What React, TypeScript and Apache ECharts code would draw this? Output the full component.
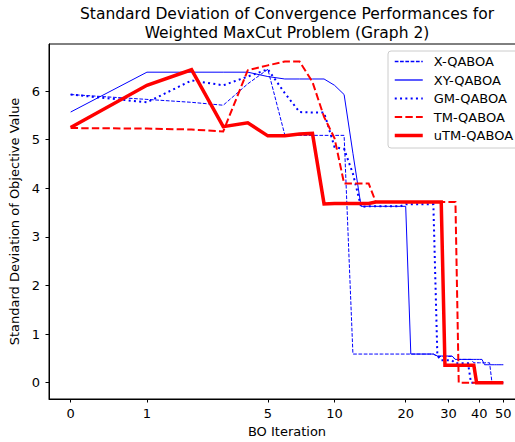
import React, { useEffect, useRef } from "react";
import * as echarts from "echarts";

const iterations = [
  0, 1, 2, 3, 4, 5, 6, 7, 8, 9, 10, 11, 12, 13, 14, 15, 16, 17, 18, 19, 20,
  21, 22, 23, 24, 25, 26, 27, 28, 29, 30, 31, 32, 33, 34, 35, 36, 37, 38, 39,
  40, 41, 42, 43, 44, 45, 46, 47, 48, 49, 50,
];

const xQaoa = [
  5.93, 5.83, 5.77, 5.71, 6.15, 6.45, 5.1, 5.09, 5.09, 5.09, 5.09, 5.09,
  0.59, 0.59, 0.59, 0.59, 0.59, 0.59, 0.59, 0.59, 0.59, 0.59, 0.59, 0.59, 0.59, 0.59, 0.59,
  0.54, 0.54, 0.54, 0.54, 0.54,
  0.48, 0.48, 0.48, 0.48, 0.48, 0.48,
  0.41, 0.41, 0.41, 0.41, 0.41, 0.41, 0.41,
  0, 0, 0, 0, 0, 0,
];

const xyQaoa = [
  5.57, 6.39, 6.39, 6.39, 6.39, 6.3, 6.25, 6.25, 6.25, 6.25, 6.12, 5.93, 4.72, 3.63,
  3.63, 3.63, 3.63, 3.63, 3.63, 3.63, 3.63,
  0.59, 0.59, 0.59, 0.59, 0.59, 0.59,
  0.55, 0.55, 0.55, 0.55, 0.55,
  0.48, 0.48, 0.48, 0.48, 0.48, 0.48, 0.48, 0.48, 0.48, 0.48,
  0.37, 0.37, 0.37, 0.37, 0.37, 0.37, 0.37, 0.37, 0.37,
];

const gmQaoa = [
  5.93, 5.77, 6.22, 6.12, 6.3, 6.45, 5.96, 5.57, 5.56, 5.56, 4.85, 4.81, 4.3, 3.62,
  3.63, 3.63, 3.63, 3.63, 3.63, 3.63,
  3.67, 3.67, 3.67, 3.67, 3.67, 3.67, 3.67,
  0.56,
  0.46, 0.46, 0.46, 0.46,
  0.4, 0.4, 0.4, 0.4, 0.4,
  0, 0, 0, 0, 0, 0, 0, 0, 0, 0, 0, 0, 0, 0,
];

const tmQaoa = [
  5.24, 5.23, 5.21, 5.17, 6.43, 6.53, 6.61, 6.61, 6.19, 5.47, 5.03, 4.1, 4.1, 4.1, 4.1, 3.72,
  3.72, 3.72, 3.72, 3.72, 3.72, 3.72, 3.72, 3.72, 3.72, 3.72, 3.72, 3.72, 3.72, 3.72, 3.72, 3.72, 3.72,
  0, 0, 0, 0, 0, 0, 0, 0, 0, 0, 0, 0, 0, 0, 0, 0, 0, 0,
];

const utmQaoa = [
  5.25, 6.12, 6.44, 5.27, 5.35, 5.08, 5.08, 5.12, 5.13, 3.68,
  3.69, 3.69, 3.69, 3.69, 3.69,
  3.72, 3.72, 3.72, 3.72, 3.72, 3.72, 3.72, 3.72, 3.72, 3.72, 3.72, 3.72, 3.72, 3.72,
  0.36, 0.36, 0.36, 0.36, 0.36, 0.36, 0.36, 0.36, 0.36, 0.36,
  0, 0, 0, 0, 0, 0, 0, 0, 0, 0, 0, 0,
];

const seriesNames = ["X-QABOA", "XY-QABOA", "GM-QABOA", "TM-QABOA", "uTM-QABOA"];
const xTickLabels = [0, 1, 5, 10, 20, 30, 40, 50];
const yTickLabels = [0, 1, 2, 3, 4, 5, 6];

const FONT = "DejaVu Sans";

// x axis uses a log10(iteration + 1) scale
const tx = (k: number) => Math.log10(k + 1);

export default function App() {
  const ref = useRef<HTMLDivElement>(null);

  useEffect(() => {
    document.body.style.margin = "0";
    if (!ref.current) return;
    const chart = echarts.init(ref.current, undefined, { renderer: "svg" });

    const styles: any[] = [
      { color: "#0000ff", width: 1, type: [3.7, 1.6] },
      { color: "#0000ff", width: 1, type: "solid" },
      { color: "#0000ff", width: 2, type: [2, 3.3] },
      { color: "#ff0000", width: 2, type: [7.4, 3.2] },
      { color: "#ff0000", width: 3.5, type: "solid" },
    ];
    const values = [xQaoa, xyQaoa, gmQaoa, tmQaoa, utmQaoa];

    const series = seriesNames.map((name, s) => ({
      name,
      type: "line",
      color: styles[s].color,
      data: iterations.map((k, i) => [tx(k), values[s][i]]),
      showSymbol: false,
      symbol: "none",
      lineStyle: { ...styles[s], cap: "butt", join: "miter" },
      itemStyle: { color: styles[s].color },
      emphasis: { disabled: true },
    }));

    const option: any = {
      animation: false,
      backgroundColor: "#fff",
      title: {
        text: "Standard Deviation of Convergence Performances for\nWeighted MaxCut Problem (Graph 2)",
        left: 287,
        top: 5,
        padding: 0,
        textAlign: "center",
        textStyle: {
          fontFamily: FONT,
          fontSize: 15.5,
          fontWeight: "normal",
          color: "#000",
          lineHeight: 18.5,
        },
      },
      grid: {
        left: 49,
        top: 44,
        right: -10,
        bottom: 43,
        show: true,
        borderColor: "#000",
        borderWidth: 1,
        backgroundColor: "transparent",
        containLabel: false,
        outerBoundsMode: "none",
      },
      legend: {
        orient: "vertical",
        left: 388,
        top: 51,
        padding: [4, 18, 6, 5],
        itemGap: 5.5,
        itemWidth: 28,
        itemHeight: 14,
        backgroundColor: "rgba(255,255,255,0.85)",
        borderColor: "#cccccc",
        borderWidth: 1,
        borderRadius: 3,
        itemStyle: { color: "rgba(0,0,0,0)", borderWidth: 0, opacity: 0 },
        textStyle: { fontFamily: FONT, fontSize: 13, color: "#000", padding: [0, 0, 0, 6] },
        data: seriesNames.map((name, s) => ({
          name,
          lineStyle: {
            color: styles[s].color,
            width: Math.max(styles[s].width, 1.3),
            type: styles[s].type,
          },
        })),
      },
      xAxis: {
        type: "value",
        min: -0.0854,
        max: 1.793,
        name: "BO Iteration",
        nameLocation: "middle",
        nameGap: 25,
        nameTextStyle: { fontFamily: FONT, fontSize: 13, color: "#000" },
        axisLine: { onZero: false, lineStyle: { color: "#000", width: 1 } },
        axisTick: {
          show: true,
          length: 3.5,
          lineStyle: { color: "#000" },
          customValues: xTickLabels.map(tx),
        },
        axisLabel: {
          fontFamily: FONT,
          fontSize: 13,
          color: "#000",
          margin: 8,
          customValues: xTickLabels.map(tx),
          formatter: (v: number) => String(Math.round(Math.pow(10, v) - 1)),
        },
        splitLine: { show: false },
      },
      yAxis: {
        type: "value",
        min: -0.335,
        max: 6.97,
        name: "Standard Deviation of Objective Value",
        nameLocation: "middle",
        nameGap: 19.5,
        nameTextStyle: { fontFamily: FONT, fontSize: 13, color: "#000" },
        axisLine: { show: true, onZero: false, lineStyle: { color: "#000", width: 1 } },
        axisTick: {
          show: true,
          length: 3.5,
          lineStyle: { color: "#000" },
          customValues: yTickLabels,
        },
        axisLabel: {
          fontFamily: FONT,
          fontSize: 13,
          color: "#000",
          margin: 9,
          customValues: yTickLabels,
        },
        splitLine: { show: false },
      },
      series,
    };

    chart.setOption(option);
    return () => chart.dispose();
  }, []);

  return <div ref={ref} style={{ width: 515, height: 442 }} />;
}
